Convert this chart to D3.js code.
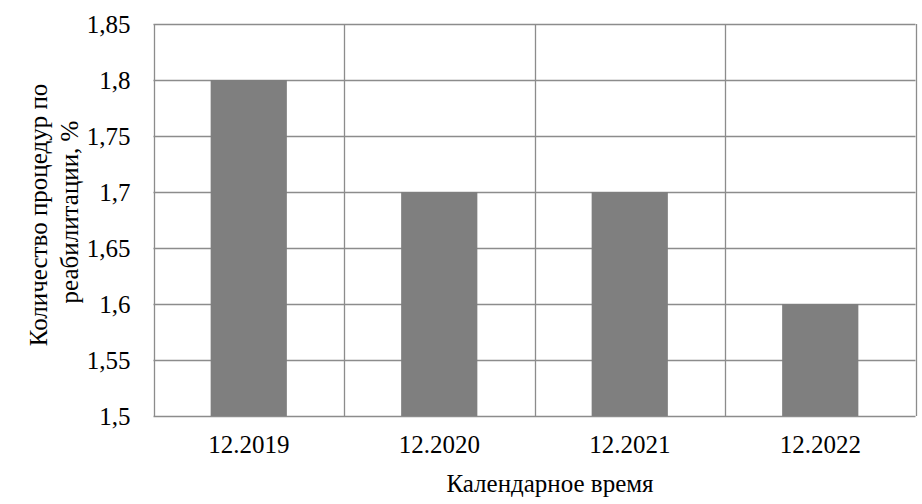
<!DOCTYPE html>
<html>
<head>
<meta charset="utf-8">
<script src="https://cdn.jsdelivr.net/npm/d3@7"></script>
<style>
  body { margin: 0; background: #fff; }
</style>
</head>
<body>
<div id="chart"></div>
<script>
// Data
const categories = ["12.2019", "12.2020", "12.2021", "12.2022"];
const values = [1.8, 1.7, 1.7, 1.6];
const yTicks = [1.5, 1.55, 1.6, 1.65, 1.7, 1.75, 1.8, 1.85];
const xTitle = "Календарное время";
const yTitleLines = ["Количество процедур по", "реабилитации, %"];

const width = 922;
const height = 504;
const margin = { top: 24, right: 6.5, bottom: 88, left: 153.5 };
const font = "Liberation Serif";
const fontSize = 25;

const svg = d3.select("#chart")
    .append("svg")
    .attr("width", width)
    .attr("height", height);

const x = d3.scaleBand()
    .domain(categories)
    .range([margin.left, width - margin.right])
    .paddingInner(0.6)
    .paddingOuter(0.3);

// band step, used for the vertical grid lines between categories
const step = (width - margin.right - margin.left) / categories.length;

const y = d3.scaleLinear()
    .domain([1.5, 1.85])
    .range([height - margin.bottom, margin.top]);

const fmt = d => String(+d.toFixed(2)).replace(".", ",");

// Horizontal grid
svg.append("g")
    .selectAll("line")
    .data(yTicks)
    .join("line")
    .attr("x1", margin.left)
    .attr("x2", width - margin.right)
    .attr("y1", d => Math.round(y(d)) + 0.5)
    .attr("y2", d => Math.round(y(d)) + 0.5)
    .attr("stroke", "#8c8c8c")
    .attr("stroke-width", 1.3);

// Vertical grid (category boundaries)
svg.append("g")
    .selectAll("line")
    .data(d3.range(categories.length + 1))
    .join("line")
    .attr("x1", i => Math.round(margin.left + i * step) + 0.5)
    .attr("x2", i => Math.round(margin.left + i * step) + 0.5)
    .attr("y1", y(1.85))
    .attr("y2", y(1.5))
    .attr("stroke", "#8c8c8c")
    .attr("stroke-width", 1.3);

// Bars
svg.append("g")
    .selectAll("rect")
    .data(values)
    .join("rect")
    .attr("x", (d, i) => x(categories[i]))
    .attr("width", x.bandwidth())
    .attr("y", d => y(d))
    .attr("height", d => y(1.5) - y(d))
    .attr("fill", "#7f7f7f");

// Y axis
const yAxis = svg.append("g")
    .attr("transform", `translate(${margin.left}, 0)`)
    .call(d3.axisLeft(y).tickValues(yTicks).tickFormat(fmt).tickSize(0).tickPadding(23))
    .attr("font-family", font)
    .attr("font-size", fontSize);
yAxis.select(".domain").remove();
yAxis.selectAll("text").attr("fill", "#000");

// X axis
const xAxis = svg.append("g")
    .attr("transform", `translate(0, ${height - margin.bottom})`)
    .call(d3.axisBottom(x).tickSize(0).tickPadding(19))
    .attr("font-family", font)
    .attr("font-size", fontSize);
xAxis.select(".domain").remove();
xAxis.selectAll("text").attr("fill", "#000");

// Axis titles
svg.append("text")
    .attr("x", 550)
    .attr("y", 492)
    .attr("text-anchor", "middle")
    .attr("font-family", font)
    .attr("font-size", fontSize)
    .text(xTitle);

svg.append("text")
    .attr("transform", "translate(47, 215) rotate(-90)")
    .attr("text-anchor", "middle")
    .attr("font-family", font)
    .attr("font-size", fontSize)
    .text(yTitleLines[0]);

svg.append("text")
    .attr("transform", "translate(78, 212) rotate(-90)")
    .attr("text-anchor", "middle")
    .attr("font-family", font)
    .attr("font-size", fontSize)
    .text(yTitleLines[1]);
</script>
</body>
</html>
